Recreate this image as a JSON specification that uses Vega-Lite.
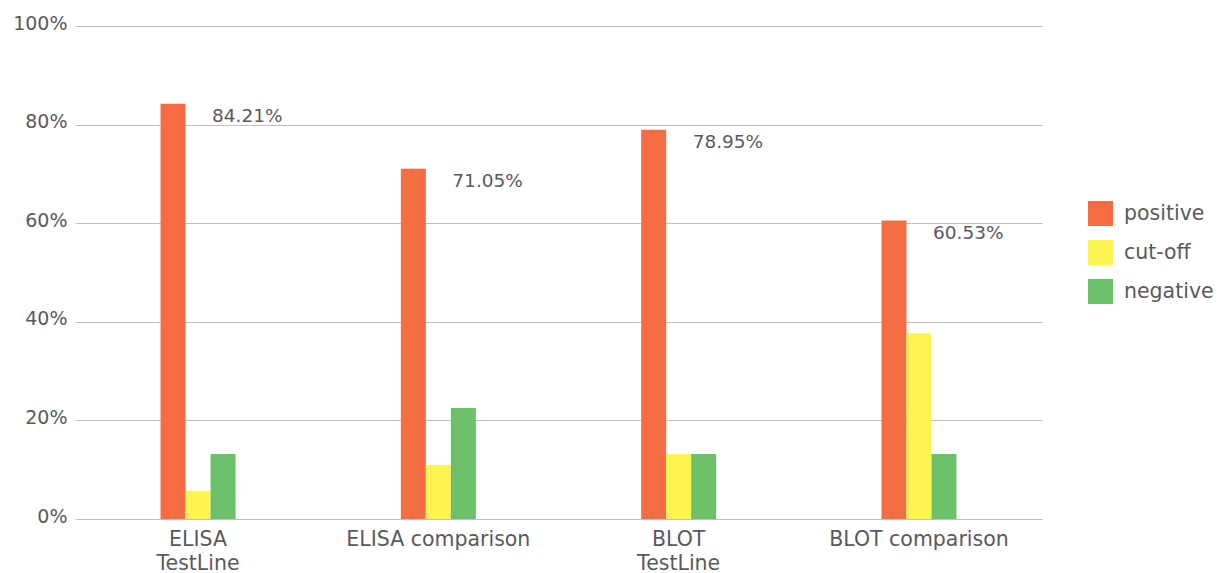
{
  "$schema": "https://vega.github.io/schema/vega-lite/v6.json",
  "width": 967,
  "height": 493,
  "autosize": "none",
  "padding": {"left": 75, "top": 26, "right": 175, "bottom": 54},
  "background": "white",
  "config": {
    "view": {"stroke": null},
    "font": "DejaVu Sans",
    "axis": {"labelFont": "DejaVu Sans", "labelColor": "#5a5a5a"},
    "legend": {"labelFont": "DejaVu Sans"}
  },
  "data": {
    "values": [
      {"test": "ELISA TestLine", "result": "positive", "pct": 0.8421},
      {"test": "ELISA TestLine", "result": "cut-off", "pct": 0.057},
      {"test": "ELISA TestLine", "result": "negative", "pct": 0.1316},
      {"test": "ELISA comparison", "result": "positive", "pct": 0.7105},
      {"test": "ELISA comparison", "result": "cut-off", "pct": 0.1095},
      {"test": "ELISA comparison", "result": "negative", "pct": 0.225},
      {"test": "BLOT TestLine", "result": "positive", "pct": 0.7895},
      {"test": "BLOT TestLine", "result": "cut-off", "pct": 0.1316},
      {"test": "BLOT TestLine", "result": "negative", "pct": 0.1316},
      {"test": "BLOT comparison", "result": "positive", "pct": 0.6053},
      {"test": "BLOT comparison", "result": "cut-off", "pct": 0.377},
      {"test": "BLOT comparison", "result": "negative", "pct": 0.1316}
    ]
  },
  "layer": [
    {
      "mark": {"type": "bar"},
      "encoding": {
        "x": {
          "field": "test",
          "type": "nominal",
          "sort": ["ELISA TestLine", "ELISA comparison", "BLOT TestLine", "BLOT comparison"],
          "scale": {"paddingInner": 0.688, "paddingOuter": 0.356},
          "axis": {
            "title": null,
            "labelAngle": 0,
            "domain": false,
            "ticks": false,
            "grid": false,
            "labelFontSize": 20.5,
            "labelPadding": 10,
            "labelLineHeight": 24,
            "labelLimit": 400,
            "labelOverlap": false,
            "labelExpr": "datum.value == 'ELISA TestLine' ? ['ELISA', 'TestLine'] : datum.value == 'BLOT TestLine' ? ['BLOT', 'TestLine'] : datum.label"
          }
        },
        "xOffset": {
          "field": "result",
          "type": "nominal",
          "sort": ["positive", "cut-off", "negative"],
          "scale": {"paddingInner": 0, "paddingOuter": 0}
        },
        "y": {
          "field": "pct",
          "type": "quantitative",
          "scale": {"domain": [0, 1]},
          "axis": {
            "title": null,
            "format": ".0%",
            "values": [0, 0.2, 0.4, 0.6, 0.8, 1],
            "domain": false,
            "ticks": false,
            "grid": true,
            "gridColor": "#bfbfbf",
            "gridWidth": 1,
            "labelFontSize": 19,
            "labelOffset": -3,
            "labelPadding": 8
          }
        },
        "color": {
          "field": "result",
          "type": "nominal",
          "sort": ["positive", "cut-off", "negative"],
          "scale": {
            "domain": ["positive", "cut-off", "negative"],
            "range": ["#F46D43", "#FFF34F", "#6DC06A"]
          },
          "legend": {
            "title": null,
            "orient": "none",
            "legendX": 1013,
            "legendY": 175,
            "symbolType": "square",
            "symbolSize": 625,
            "symbolStrokeWidth": 0,
            "labelFontSize": 20.5,
            "labelColor": "#5a5a5a",
            "labelOffset": 11,
            "labelLimit": 200,
            "rowPadding": 14
          }
        }
      }
    },
    {
      "transform": [{"filter": "datum.result == 'positive'"}],
      "mark": {"type": "text", "align": "left", "baseline": "middle", "dx": 14, "dy": 12, "fontSize": 18.5, "color": "#5a5a5a"},
      "encoding": {
        "x": {"field": "test", "type": "nominal", "sort": ["ELISA TestLine", "ELISA comparison", "BLOT TestLine", "BLOT comparison"]},
        "y": {"field": "pct", "type": "quantitative"},
        "text": {"field": "pct", "type": "quantitative", "format": ".2%"}
      }
    }
  ]
}
